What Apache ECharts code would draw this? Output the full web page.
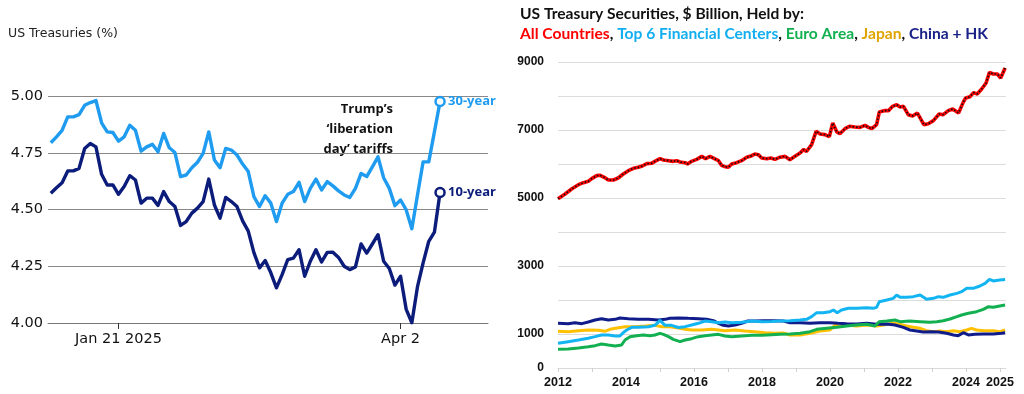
<!DOCTYPE html>
<html><head><meta charset="utf-8">
<script src="https://cdn.jsdelivr.net/npm/echarts/dist/echarts.min.js"></script>
<style>html,body{margin:0;padding:0;background:#fff}#c{width:1024px;height:394px}</style>
</head><body><div id="c"></div>
<script>
// ---------- Left panel: daily yields ----------
const tradingDays = ['Dec 31','Jan 2','Jan 3','Jan 6','Jan 7','Jan 8','Jan 10','Jan 13','Jan 14','Jan 15','Jan 16','Jan 17',
 'Jan 21','Jan 22','Jan 23','Jan 24','Jan 27','Jan 28','Jan 29','Jan 30','Jan 31',
 'Feb 3','Feb 4','Feb 5','Feb 6','Feb 7','Feb 10','Feb 11','Feb 12','Feb 13','Feb 14','Feb 18','Feb 19','Feb 20','Feb 21','Feb 24','Feb 25','Feb 26','Feb 27','Feb 28',
 'Mar 3','Mar 4','Mar 5','Mar 6','Mar 7','Mar 10','Mar 11','Mar 12','Mar 13','Mar 14','Mar 17','Mar 18','Mar 19','Mar 20','Mar 21','Mar 24','Mar 25','Mar 26','Mar 27','Mar 28','Mar 31',
 'Apr 1','Apr 2','Apr 3','Apr 4','Apr 7','Apr 8','Apr 9','Apr 10','Apr 11',
 'Apr 14','Apr 15','Apr 16','Apr 17','Apr 21','Apr 22','Apr 23','Apr 24'];
const yield30 = [4.794,4.820,4.849,4.908,4.908,4.918,4.959,4.971,4.980,4.882,4.842,4.839,
 4.801,4.820,4.871,4.849,4.757,4.776,4.787,4.754,4.835,
 4.772,4.751,4.645,4.652,4.684,4.708,4.747,4.842,4.718,4.684,4.769,4.762,4.740,4.700,4.667,4.557,4.513,4.561,4.528,
 4.447,4.528,4.567,4.579,4.620,4.535,4.593,4.634,4.586,4.623,4.604,4.582,4.564,4.553,4.593,4.659,4.645,4.688,4.732,4.640,4.593,
 4.517,4.542,4.498,4.415,4.564,4.710,4.710,4.842,4.976];
const yield10 = [4.572,4.596,4.618,4.670,4.670,4.681,4.769,4.791,4.776,4.655,4.608,4.608,
 4.567,4.601,4.649,4.630,4.528,4.550,4.550,4.518,4.579,
 4.535,4.513,4.430,4.447,4.484,4.506,4.535,4.634,4.520,4.462,4.553,4.535,4.513,4.450,4.405,4.310,4.243,4.275,4.221,
 4.155,4.213,4.279,4.286,4.323,4.206,4.272,4.323,4.269,4.311,4.312,4.289,4.250,4.235,4.247,4.348,4.308,4.348,4.389,4.272,4.240,
 4.167,4.206,4.060,4.001,4.160,4.265,4.360,4.400,4.575];
const dayLabels = {'Jan 21':'Jan 21 2025','Apr 2':'Apr 2'};
const eventDay = 'Apr 2';

// ---------- Right panel: holdings, $ billion ----------
const allCountries = [[2012.00,4980],[2012.21,5118],[2012.40,5265],[2012.60,5392],[2012.75,5451],[2012.89,5490],[2012.99,5569],[2013.14,5657],[2013.24,5667],[2013.36,5608],[2013.48,5529],[2013.63,5529],[2013.77,5588],[2013.92,5706],[2014.07,5804],[2014.22,5873],[2014.36,5902],[2014.48,5941],[2014.61,6010],[2014.75,6020],[2014.85,6078],[2015.00,6157],[2015.10,6118],[2015.25,6098],[2015.39,6078],[2015.49,6098],[2015.59,6059],[2015.74,6039],[2015.81,6000],[2015.93,6078],[2016.08,6137],[2016.23,6225],[2016.34,6157],[2016.47,6225],[2016.60,6157],[2016.72,6098],[2016.81,5961],[2016.91,5922],[2017.01,5902],[2017.11,6000],[2017.25,6039],[2017.40,6098],[2017.55,6196],[2017.70,6245],[2017.79,6294],[2017.89,6275],[2017.99,6176],[2018.14,6157],[2018.26,6176],[2018.38,6137],[2018.53,6200],[2018.68,6225],[2018.82,6127],[2018.97,6225],[2019.12,6324],[2019.22,6422],[2019.31,6373],[2019.46,6569],[2019.59,6961],[2019.71,6882],[2019.85,6863],[2019.98,6804],[2020.08,7206],[2020.20,6941],[2020.29,6892],[2020.44,7039],[2020.57,7108],[2020.73,7088],[2020.88,7078],[2021.03,7137],[2021.13,7078],[2021.23,7039],[2021.37,7157],[2021.45,7529],[2021.59,7569],[2021.72,7569],[2021.84,7696],[2021.96,7745],[2022.06,7676],[2022.16,7696],[2022.30,7451],[2022.43,7412],[2022.57,7500],[2022.76,7157],[2022.89,7186],[2023.04,7275],[2023.21,7471],[2023.33,7451],[2023.48,7569],[2023.61,7618],[2023.78,7500],[2023.92,7820],[2023.99,7941],[2024.12,7980],[2024.22,8098],[2024.33,8059],[2024.46,8206],[2024.59,8382],[2024.69,8696],[2024.80,8647],[2024.92,8647],[2025.02,8529],[2025.15,8824]];
const top6Centers = [[2012.00,725],[2012.30,775],[2012.60,824],[2012.89,873],[2013.09,922],[2013.28,971],[2013.48,971],[2013.68,941],[2013.82,941],[2013.92,1039],[2014.02,1118],[2014.17,1196],[2014.36,1196],[2014.66,1216],[2014.85,1255],[2015.00,1400],[2015.15,1255],[2015.34,1255],[2015.54,1190],[2015.74,1216],[2015.93,1265],[2016.13,1314],[2016.32,1380],[2016.52,1360],[2016.72,1333],[2016.91,1353],[2017.11,1333],[2017.40,1343],[2017.70,1380],[2018.00,1360],[2018.28,1370],[2018.53,1382],[2018.82,1392],[2019.12,1412],[2019.31,1431],[2019.46,1510],[2019.61,1627],[2019.80,1627],[2020.00,1657],[2020.10,1706],[2020.21,1627],[2020.34,1706],[2020.54,1755],[2020.78,1755],[2021.08,1775],[2021.27,1755],[2021.37,1784],[2021.45,1951],[2021.67,2000],[2021.86,2049],[2021.96,2147],[2022.06,2078],[2022.25,2078],[2022.45,2098],[2022.65,2147],[2022.84,2020],[2023.04,2049],[2023.19,2098],[2023.33,2078],[2023.53,2147],[2023.73,2196],[2023.87,2245],[2024.02,2343],[2024.21,2343],[2024.41,2412],[2024.56,2490],[2024.69,2608],[2024.80,2559],[2024.99,2588],[2025.15,2600]];
const euroArea = [[2012.00,549],[2012.30,559],[2012.60,588],[2012.89,627],[2013.09,657],[2013.28,706],[2013.48,676],[2013.68,647],[2013.87,676],[2013.97,824],[2014.12,922],[2014.31,951],[2014.51,971],[2014.71,951],[2014.85,971],[2015.00,1020],[2015.10,990],[2015.25,922],[2015.39,843],[2015.59,775],[2015.74,824],[2015.93,863],[2016.13,922],[2016.32,951],[2016.52,971],[2016.72,990],[2016.91,941],[2017.11,922],[2017.40,941],[2017.70,961],[2018.00,961],[2018.28,980],[2018.53,990],[2018.82,1000],[2019.12,1020],[2019.41,1069],[2019.61,1137],[2019.90,1167],[2020.20,1196],[2020.49,1235],[2020.78,1265],[2021.08,1284],[2021.32,1235],[2021.45,1363],[2021.67,1382],[2021.91,1412],[2022.06,1363],[2022.35,1382],[2022.65,1363],[2022.94,1343],[2023.14,1363],[2023.33,1392],[2023.53,1441],[2023.73,1510],[2023.87,1559],[2024.07,1608],[2024.31,1657],[2024.51,1725],[2024.66,1804],[2024.80,1784],[2024.99,1823],[2025.15,1853]];
const japan = [[2012.00,1078],[2012.30,1069],[2012.60,1098],[2012.89,1118],[2013.19,1108],[2013.38,1078],[2013.53,1137],[2013.73,1176],[2013.97,1216],[2014.26,1216],[2014.56,1235],[2014.85,1255],[2015.05,1216],[2015.29,1216],[2015.54,1176],[2015.74,1137],[2015.93,1118],[2016.23,1118],[2016.52,1137],[2016.72,1118],[2016.91,1098],[2017.21,1118],[2017.50,1088],[2017.79,1069],[2018.09,1039],[2018.38,1020],[2018.63,1030],[2018.82,971],[2019.12,971],[2019.41,1020],[2019.71,1088],[2020.00,1118],[2020.15,1265],[2020.29,1216],[2020.49,1265],[2020.78,1235],[2021.08,1265],[2021.37,1235],[2021.57,1265],[2021.86,1314],[2022.06,1284],[2022.25,1235],[2022.45,1196],[2022.65,1167],[2022.84,1098],[2023.04,1069],[2023.23,1088],[2023.43,1069],[2023.63,1098],[2023.82,1069],[2024.02,1118],[2024.16,1167],[2024.31,1118],[2024.51,1098],[2024.80,1098],[2024.99,1069],[2025.15,1118]];
const chinaHK = [[2012.00,1314],[2012.30,1304],[2012.50,1333],[2012.70,1304],[2012.89,1353],[2013.09,1412],[2013.28,1451],[2013.48,1412],[2013.68,1431],[2013.82,1471],[2014.07,1451],[2014.36,1431],[2014.66,1431],[2014.95,1412],[2015.15,1431],[2015.29,1461],[2015.54,1471],[2015.83,1461],[2016.13,1451],[2016.37,1431],[2016.57,1392],[2016.72,1314],[2016.86,1255],[2017.01,1235],[2017.21,1265],[2017.40,1314],[2017.58,1382],[2017.79,1382],[2018.04,1392],[2018.33,1392],[2018.63,1380],[2018.82,1333],[2019.12,1333],[2019.41,1314],[2019.71,1333],[2020.00,1333],[2020.24,1314],[2020.49,1304],[2020.78,1294],[2021.08,1314],[2021.37,1284],[2021.67,1294],[2021.91,1265],[2022.16,1196],[2022.35,1118],[2022.55,1088],[2022.74,1059],[2022.99,1069],[2023.19,1059],[2023.43,1020],[2023.63,971],[2023.77,951],[2023.92,1039],[2024.07,971],[2024.26,990],[2024.51,1000],[2024.80,1000],[2025.05,1020],[2025.15,1039]];
const yearTicks = [2012,2013,2014,2015,2016,2017,2018,2019,2020,2021,2022,2023,2024,2025];
const yearLabels = [2012,2014,2016,2018,2020,2022,2024,2025];
const holdingLabels = [0,1000,3000,5000,7000,9000];

const C30 = '#1f9cf0', C10 = '#0c1c7a';
const LF = 'DejaVu Sans';
const AF = 'Open Sans';
const RF = 'Lato';
const TS = 15.6;

const chart = echarts.init(document.getElementById('c'), null, {renderer:'canvas'});
const lastIdx = yield30.length - 1;
const endSym = (v, p) => p.dataIndex === lastIdx ? 'circle' : 'none';
const rs = c => ({color:c, fontFamily:RF, fontSize:TS, fontWeight:'bold'});

chart.setOption({
  animation: false,
  backgroundColor: '#fff',
  title: [
    {text:'US Treasuries (%)', left:8, top:27, padding:0, textStyle:{fontFamily:LF, fontSize:12.5, fontWeight:'normal', color:'#222'}},
    {text:'US Treasury Securities, $ Billion, Held by:', left:520, top:6, padding:0, textStyle:{fontFamily:RF, fontSize:TS, fontWeight:'bold', color:'#111'}},
    {text:'{r|All Countries}{k|, }{b|Top 6 Financial Centers}{k|, }{g|Euro Area}{k|, }{y|Japan}{k|, }{n|China + HK}', left:520, top:26, padding:0,
     textStyle:{fontFamily:RF, fontSize:TS, fontWeight:'bold', rich:{
       r:rs('#ff0000'), k:rs('#111'), b:rs('#12aef0'), g:rs('#12b050'), y:rs('#e0a400'), n:rs('#1a2288')}}}
  ],
  grid: [
    {left:48, top:96, width:440, height:227, outerBoundsMode:'none', containLabel:false},
    {left:558, top:62, width:447.8, height:306, outerBoundsMode:'none', containLabel:false}
  ],
  xAxis: [
    {type:'category', gridIndex:0, data:tradingDays, boundaryGap:true,
     axisLine:{show:true, lineStyle:{color:'#777', width:1}},
     axisTick:{show:true, alignWithLabel:true, length:6, lineStyle:{color:'#333'},
       interval:(i, v) => v in dayLabels},
     axisLabel:{show:true, interval:(i, v) => v in dayLabels, formatter:v => dayLabels[v] || '',
       fontFamily:LF, fontSize:14.5, color:'#111', margin:9},
     splitLine:{show:false}},
    {type:'value', gridIndex:1, min:2012, max:2025.17,
     axisLine:{show:true, lineStyle:{color:'#d9d9d9', width:1}},
     axisTick:{show:true, customValues:yearTicks, length:4, lineStyle:{color:'#d0d0d0'}},
     axisLabel:{show:true, customValues:yearLabels, formatter:v => String(v), fontFamily:'Liberation Sans', fontWeight:'bold', fontSize:12.5, color:'#111', margin:8},
     splitLine:{show:false}}
  ],
  yAxis: [
    {type:'value', gridIndex:0, min:4, max:5, interval:0.25,
     axisLine:{show:false}, axisTick:{show:false},
     axisLabel:{formatter:v => v.toFixed(2), fontFamily:LF, fontSize:14.5, color:'#111', margin:5},
     splitLine:{show:true, lineStyle:{color:'#888', width:1}}},
    {type:'value', gridIndex:1, min:0, max:9000, interval:1000,
     axisLine:{show:false}, axisTick:{show:false},
     axisLabel:{customValues:holdingLabels, formatter:v => String(v), fontFamily:'Liberation Sans', fontWeight:'bold', fontSize:12, color:'#111', margin:14},
     splitLine:{show:true, lineStyle:{color:'#dcdcdc', width:1}}}
  ],
  series: [
    {name:'30-year', type:'line', xAxisIndex:0, yAxisIndex:0, data:yield30,
     showSymbol:true, showAllSymbol:true, symbol:endSym, symbolSize:9,
     itemStyle:{color:'#fff', borderColor:C30, borderWidth:2.5},
     lineStyle:{color:C30, width:3.4, join:'round'}, emphasis:{disabled:true},
     endLabel:{show:true, formatter:'30-year', color:C30, fontFamily:AF, fontWeight:'bold', fontSize:13, distance:8},
     markLine:{silent:true, symbol:['none','none'], animation:false,
       lineStyle:{color:'#333', width:1, type:'solid'}, label:{show:false},
       data:[[{coord:[eventDay, 5.025]},{coord:[eventDay, 4.0]}]]}},
    {name:'10-year', type:'line', xAxisIndex:0, yAxisIndex:0, data:yield10,
     showSymbol:true, showAllSymbol:true, symbol:endSym, symbolSize:9,
     itemStyle:{color:'#fff', borderColor:C10, borderWidth:2.5},
     lineStyle:{color:C10, width:3.4, join:'round'}, emphasis:{disabled:true},
     endLabel:{show:true, formatter:'10-year', color:C10, fontFamily:AF, fontWeight:'bold', fontSize:13, distance:8}},
    {name:'Japan', type:'line', xAxisIndex:1, yAxisIndex:1, data:japan, showSymbol:false, lineStyle:{color:'#ffc000', width:3}, emphasis:{disabled:true}},
    {name:'China + HK', type:'line', xAxisIndex:1, yAxisIndex:1, data:chinaHK, showSymbol:false, lineStyle:{color:'#0f1c8a', width:3}, emphasis:{disabled:true}},
    {name:'Euro Area', type:'line', xAxisIndex:1, yAxisIndex:1, data:euroArea, showSymbol:false, lineStyle:{color:'#12b050', width:3}, emphasis:{disabled:true}},
    {name:'Top 6 Financial Centers', type:'line', xAxisIndex:1, yAxisIndex:1, data:top6Centers, showSymbol:false, lineStyle:{color:'#12b4f2', width:3}, emphasis:{disabled:true}},
    {name:'All Countries', type:'line', xAxisIndex:1, yAxisIndex:1, data:allCountries, showSymbol:false, lineStyle:{color:'#ff0000', width:3.6}, emphasis:{disabled:true}},
    {name:'All Countries dots', type:'line', xAxisIndex:1, yAxisIndex:1, data:allCountries, showSymbol:false, lineStyle:{color:'#111', width:1.7, type:[1.5,2]}, emphasis:{disabled:true}}
  ],
  graphic: [
    {type:'text', x:393, y:99, silent:true,
     style:{text:'Trump’s\n‘liberation\nday’ tariffs', align:'right', verticalAlign:'top',
       font:'bold 13px "Open Sans"', lineHeight:20, fill:'#111'}}
  ]
});
</script></body></html>
